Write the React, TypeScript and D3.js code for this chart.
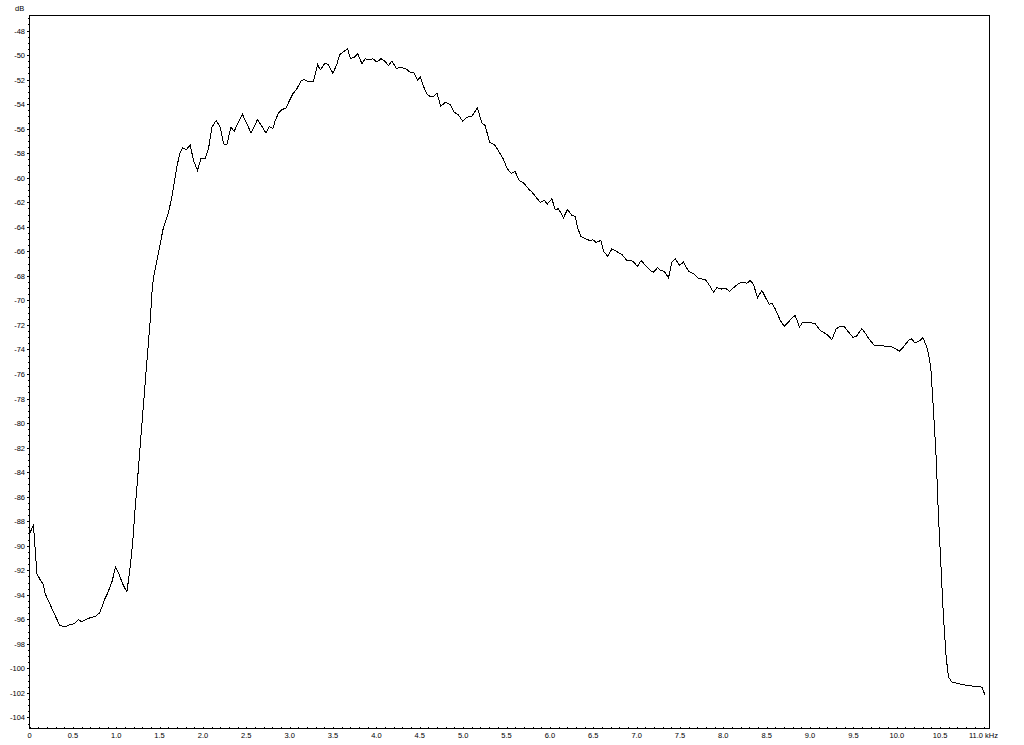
import * as d3 from "d3";
import { useEffect, useRef } from "react";

// spectrum (kHz / dB)
const freqKHz = [
  0.0, 0.046, 0.085, 0.123, 0.155, 0.181, 0.219, 0.277, 0.316, 0.346, 0.392, 0.431, 0.477, 0.515, 0.565, 0.604,
  0.654, 0.7, 0.758, 0.807, 0.835, 0.861, 0.899, 0.95, 0.992, 1.031, 1.077, 1.123, 1.161, 1.192, 1.219, 1.245,
  1.288, 1.334, 1.392, 1.411, 1.43, 1.461, 1.499, 1.545, 1.603, 1.642, 1.68, 1.706, 1.738, 1.769, 1.807, 1.853,
  1.891, 1.937, 1.976, 2.026, 2.064, 2.103, 2.153, 2.199, 2.237, 2.276, 2.322, 2.36, 2.398, 2.456, 2.507, 2.553,
  2.591, 2.629, 2.68, 2.726, 2.764, 2.806, 2.833, 2.871, 2.91, 2.96, 2.998, 3.037, 3.083, 3.129, 3.167, 3.217,
  3.275, 3.321, 3.352, 3.409, 3.447, 3.498, 3.542, 3.577, 3.623, 3.667, 3.703, 3.744, 3.786, 3.833, 3.871, 3.92,
  3.959, 4.006, 4.052, 4.101, 4.139, 4.178, 4.228, 4.274, 4.332, 4.389, 4.428, 4.474, 4.505, 4.543, 4.582, 4.612,
  4.658, 4.697, 4.743, 4.793, 4.851, 4.897, 4.946, 4.993, 5.043, 5.101, 5.165, 5.216, 5.254, 5.304, 5.37, 5.427,
  5.465, 5.508, 5.554, 5.6, 5.646, 5.704, 5.75, 5.796, 5.842, 5.888, 5.934, 5.973, 6.023, 6.061, 6.099, 6.157,
  6.203, 6.254, 6.292, 6.318, 6.357, 6.407, 6.457, 6.496, 6.534, 6.588, 6.618, 6.669, 6.715, 6.765, 6.83, 6.888,
  6.957, 7.01, 7.053, 7.111, 7.165, 7.195, 7.241, 7.28, 7.318, 7.368, 7.407, 7.445, 7.495, 7.541, 7.598, 7.656,
  7.714, 7.791, 7.84, 7.887, 7.926, 7.983, 8.021, 8.071, 8.125, 8.175, 8.214, 8.272, 8.31, 8.348, 8.394, 8.445,
  8.494, 8.532, 8.56, 8.598, 8.656, 8.702, 8.751, 8.791, 8.829, 8.878, 8.917, 8.982, 9.059, 9.117, 9.194, 9.252,
  9.301, 9.347, 9.394, 9.443, 9.494, 9.532, 9.598, 9.647, 9.685, 9.743, 9.809, 9.878, 9.943, 9.981, 10.031, 10.077,
  10.135, 10.166, 10.212, 10.262, 10.301, 10.339, 10.366, 10.393, 10.423, 10.454, 10.481, 10.508, 10.538, 10.569,
  10.596, 10.635, 10.711, 10.808, 10.904, 10.981, 11.019,
];

const levelDb = [
  -89.0, -88.34, -92.28, -92.77, -93.1, -93.9, -94.5, -95.4, -96.0, -96.5, -96.57, -96.55, -96.4, -96.36, -96.03, -96.2,
  -96.0, -95.87, -95.76, -95.49, -95.0, -94.45, -93.9, -92.96, -91.74, -92.3, -93.15, -93.77, -91.74, -89.56, -86.85, -84.67,
  -80.8, -76.7, -71.63, -69.46, -68.1, -67.0, -65.66, -64.03, -62.8, -61.58, -59.96, -58.87, -57.92, -57.56, -57.73, -57.32,
  -58.6, -59.4, -58.46, -58.46, -57.64, -55.88, -55.33, -55.88, -57.24, -57.29, -55.88, -56.23, -55.6, -54.85, -55.6, -56.34,
  -55.82, -55.25, -55.82, -56.34, -55.82, -56.0, -55.33, -54.74, -54.46, -54.3, -53.7, -53.16, -52.75, -52.13, -52.0, -52.16,
  -52.13, -50.77, -51.2, -50.66, -50.8, -51.48, -50.8, -49.96, -49.71, -49.5, -50.3, -50.17, -49.9, -50.71, -50.3, -50.39,
  -50.3, -50.58, -50.3, -50.53, -50.85, -50.5, -51.07, -51.04, -51.07, -51.4, -51.4, -52.07, -51.8, -52.56, -53.16, -53.35,
  -53.38, -53.1, -54.19, -53.84, -54.03, -54.66, -54.87, -55.39, -55.06, -55.0, -54.3, -55.55, -55.74, -57.1, -57.37, -58.05,
  -58.5, -59.25, -59.65, -59.5, -60.22, -60.47, -60.88, -61.2, -61.6, -62.0, -61.85, -62.13, -61.72, -62.6, -62.53, -63.26,
  -62.6, -63.08, -63.16, -64.03, -64.79, -64.98, -65.11, -65.06, -65.28, -65.11, -65.98, -66.42, -65.79, -66.0, -66.26, -66.74,
  -66.8, -67.23, -66.74, -67.23, -67.62, -67.7, -67.34, -67.56, -67.62, -68.16, -66.88, -66.6, -67.15, -66.88, -67.62, -67.83,
  -68.24, -68.27, -68.78, -69.33, -68.97, -69.08, -69.0, -69.25, -68.92, -68.65, -68.51, -68.6, -68.38, -68.7, -69.79, -69.19,
  -69.87, -70.33, -70.22, -70.68, -71.63, -72.1, -71.77, -71.42, -71.23, -72.18, -71.77, -71.77, -71.9, -72.45, -72.78, -73.2,
  -72.31, -72.12, -72.12, -72.58, -73.0, -72.94, -72.31, -72.78, -73.2, -73.67, -73.67, -73.75, -73.8, -73.94, -74.13, -73.8,
  -73.26, -73.12, -73.48, -73.3, -73.04, -73.67, -74.35, -75.6, -78.97, -82.78, -87.67, -91.47, -95.8, -99.07,
  -100.7, -101.1, -101.25, -101.38, -101.46, -101.52, -102.2,
];

const xTickLabels = d3.range(0, 23).map((i) => (i === 0 ? "0" : (i * 0.5).toFixed(1)));
const yTickValues = d3.range(-104, -47, 2);

const WIDTH = 1024;
const HEIGHT = 745;
const FONT = "'Liberation Sans', Arial, sans-serif";

export default function App() {
  const svgRef = useRef<SVGSVGElement>(null);

  useEffect(() => {
    if (!svgRef.current) return;
    document.body.style.margin = "0";

    const svg = d3.select(svgRef.current);
    svg.selectAll("*").remove();

    const x = d3.scaleLinear().domain([0, 11.069]).range([29.5, 989.5]);
    const y = d3.scaleLinear().domain([-104.897, -46.777]).range([728.5, 15.5]);

    const [x0, x1] = x.range();
    const [y0, y1] = y.range();

    // frame
    svg
      .append("rect")
      .attr("x", x0)
      .attr("y", y1)
      .attr("width", x1 - x0)
      .attr("height", y0 - y1)
      .attr("fill", "none")
      .attr("stroke", "#000")
      .attr("shape-rendering", "crispEdges");

    // y ticks: minor every 0.5 dB, labels every 2 dB
    const yMinor = d3.range(-104.5, -46.9, 0.5);
    svg
      .append("g")
      .selectAll("line")
      .data(yMinor)
      .join("line")
      .attr("x1", x0 - 2)
      .attr("x2", x0)
      .attr("y1", (d) => Math.round(y(d)) + 0.5)
      .attr("y2", (d) => Math.round(y(d)) + 0.5)
      .attr("stroke", "#000")
      .attr("shape-rendering", "crispEdges");

    svg
      .append("g")
      .selectAll("line")
      .data(yTickValues)
      .join("line")
      .attr("x1", x0 - 3)
      .attr("x2", x0)
      .attr("y1", (d) => Math.round(y(d)) + 0.5)
      .attr("y2", (d) => Math.round(y(d)) + 0.5)
      .attr("stroke", "#000")
      .attr("shape-rendering", "crispEdges");

    svg
      .append("g")
      .selectAll("text")
      .data(yTickValues)
      .join("text")
      .attr("x", 25)
      .attr("y", (d) => y(d) + 3)
      .attr("text-anchor", "end")
      .attr("font-family", FONT)
      .attr("font-size", "7.5px")
      .attr("fill", "#000")
      .text((d) => String(d));

    svg
      .append("text")
      .attr("x", 15)
      .attr("y", 11)
      .attr("font-family", FONT)
      .attr("font-size", "7.5px")
      .attr("fill", "#000")
      .text("dB");

    // x ticks: minor every 0.1 kHz, labelled every 0.5 kHz
    const xMinor = d3.range(0, 111).map((i) => i / 10);
    svg
      .append("g")
      .selectAll("line")
      .data(xMinor)
      .join("line")
      .attr("x1", (d) => Math.round(x(d)) + 0.5)
      .attr("x2", (d) => Math.round(x(d)) + 0.5)
      .attr("y1", y0 - 2)
      .attr("y2", y0)
      .attr("stroke", "#000")
      .attr("shape-rendering", "crispEdges");

    svg
      .append("g")
      .selectAll("text")
      .data(xTickLabels)
      .join("text")
      .attr("x", (_, i) => x(i * 0.5))
      .attr("y", 737.5)
      .attr("text-anchor", "middle")
      .attr("font-family", FONT)
      .attr("font-size", "7.5px")
      .attr("fill", "#000")
      .text((d, i) => (i === xTickLabels.length - 1 ? d + " kHz" : d));

    // spectrum curve
    const line = d3
      .line<number>()
      .x((_, i) => x(freqKHz[i]))
      .y((d) => y(d));

    svg
      .append("path")
      .datum(levelDb)
      .attr("d", line)
      .attr("fill", "none")
      .attr("stroke", "#000")
      .attr("stroke-width", 1)
      .attr("shape-rendering", "crispEdges");
  }, []);

  return (
    <svg
      ref={svgRef}
      width={WIDTH}
      height={HEIGHT}
      style={{ position: "absolute", left: 0, top: 0, background: "#fff" }}
    />
  );
}
